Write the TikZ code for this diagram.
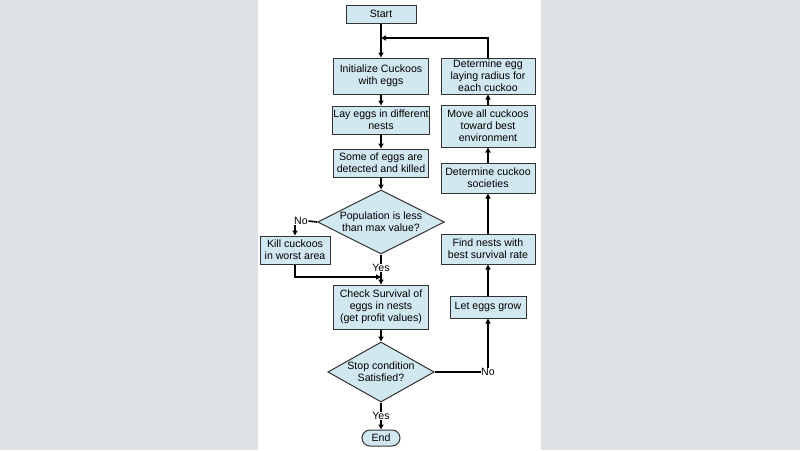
\documentclass[tikz,border=0pt]{standalone}
\usepackage{fontspec}
\setmainfont{Liberation Sans}
\usetikzlibrary{shapes.geometric,arrows.meta}
\definecolor{boxfill}{HTML}{D2E8F0}
\definecolor{side}{HTML}{DCE2E6}
\begin{document}
\begin{tikzpicture}[x=1pt,y=-1pt,
  every node/.style={font=\fontsize{10.6}{11.8}\selectfont, align=center, inner sep=0.5pt},
  box/.style={draw=black!80, line width=1pt, fill=boxfill, minimum width=#1, minimum height=28pt},
  dia/.style={draw=black!80, line width=1pt, fill=boxfill, diamond, aspect=2, inner sep=0pt},
  arr/.style={line width=1.6pt, -{Triangle[length=5pt,width=5pt]}},
  ln/.style={line width=1.6pt}]
\useasboundingbox (0,0) rectangle (800,450);
\fill[side] (0,0) rectangle (258,450);
\fill[side] (541,0) rectangle (800,450);
\fill[white] (258,0) rectangle (541,450);

\node[box=70pt, minimum height=18pt] (start) at (381,14) {Start};
\node[box=95pt, minimum height=36pt] (init) at (381,76) {Initialize Cuckoos\\with eggs};
\node[box=95pt] (lay) at (381,120) {Lay eggs in different\\nests};
\node[box=95pt] (some) at (381,163) {Some of eggs are\\detected and killed};
\node[dia, minimum width=127pt, minimum height=64pt] (pop) at (381,222) {Population is less\\than max value?};
\node[box=70pt] (kill) at (295,250) {Kill cuckoos\\in worst area};
\node[box=95pt, minimum height=44pt] (check) at (381,307) {Check Survival of\\eggs in nests\\(get profit values)};
\node[dia, minimum width=102pt, minimum height=60pt] (stop) at (381,372) {Stop condition\\Satisfied?};
\node[draw=black!80, line width=1pt, fill=boxfill, rounded corners=8pt, minimum width=38pt, minimum height=16pt] (end) at (381,438) {End};

\node[box=76pt, minimum height=22pt] (grow) at (488,307) {Let eggs grow};
\node[box=94pt, minimum height=30pt] (find) at (488,249) {Find nests with\\best survival rate};
\node[box=94pt, minimum height=30pt] (soc) at (488,178) {Determine cuckoo\\societies};
\node[box=94pt, minimum height=42pt] (move) at (488,126) {Move all cuckoos\\toward best\\environment};
\node[box=94pt, minimum height=36pt] (rad) at (488,76) {Determine egg\\laying radius for\\each cuckoo};

\node (no1) at (301,221) {No};
\node (yes1) at (381,268) {Yes};
\node (yes2) at (381,416) {Yes};
\node (no2) at (488,372) {No};
\coordinate (loop) at (381,38);
\coordinate (merge) at (381,277);

\draw[arr] (start) -- (init);
\draw[arr] (init) -- (lay);
\draw[arr] (lay) -- (some);
\draw[arr] (some) -- (pop);
\draw[ln] (pop.west) -- (no1.east);
\draw[arr] (no1.south -| kill.north) -- (kill.north);
\draw[ln] (pop.south) -- (yes1.north);
\draw[arr] (yes1.south) -- (check.north);
\draw[arr] (kill.south) |- (merge);
\draw[arr] (check) -- (stop);
\draw[ln] (stop.south) -- (yes2.north);
\draw[arr] (yes2.south) -- (end.north);
\draw[ln] (stop.east) -- (no2.west);
\draw[arr] (no2.north) -- (grow.south);
\draw[arr] (grow) -- (find);
\draw[arr] (find) -- (soc);
\draw[arr] (soc) -- (move);
\draw[arr] (move) -- (rad);
\draw[arr] (rad.north) |- (loop);
\end{tikzpicture}
\end{document}
